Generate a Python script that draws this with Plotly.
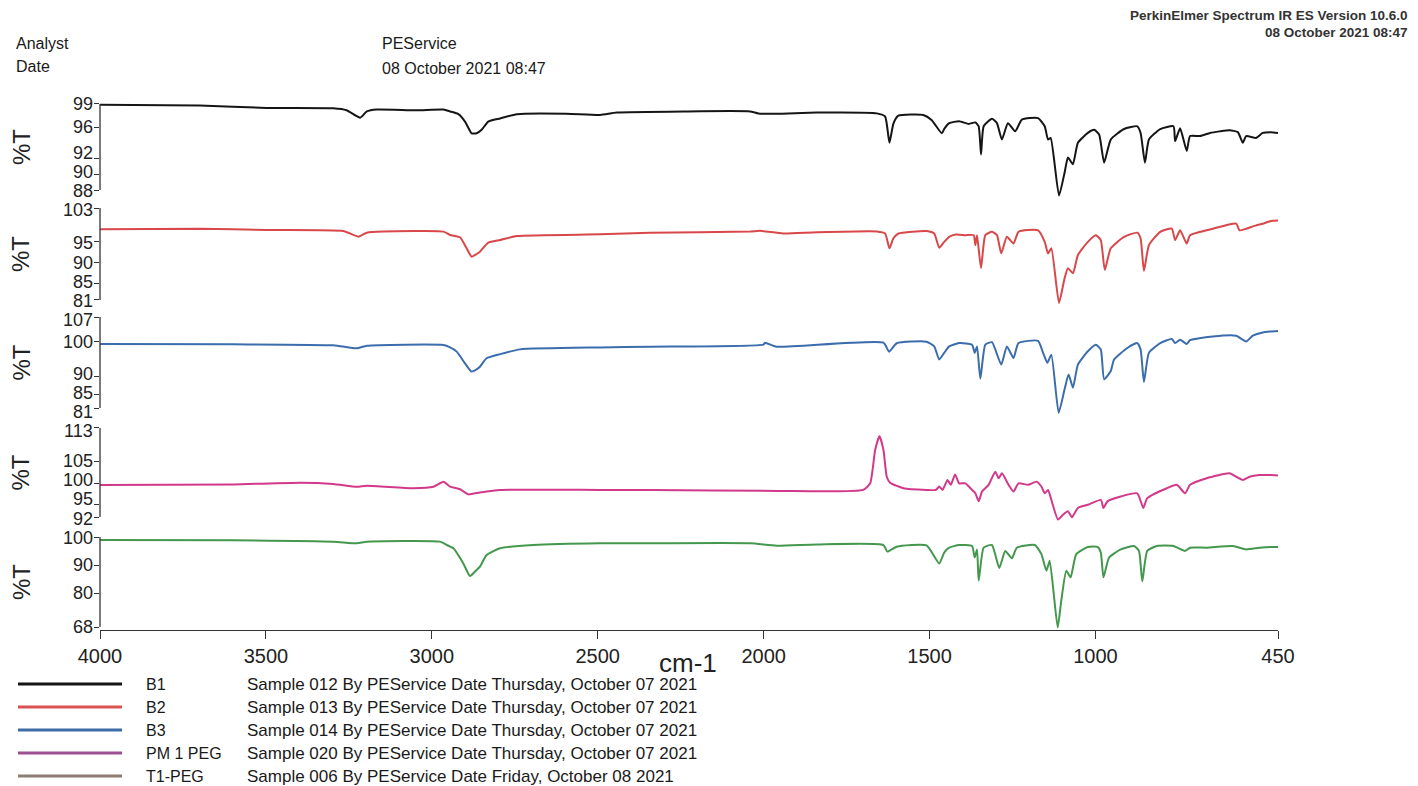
import plotly.graph_objects as go

# ---------------------------------------------------------------------------
# FT-IR spectra (wavenumber in cm-1, transmittance in %T)
# ---------------------------------------------------------------------------
b1_wn = [4000, 3700, 3498, 3297, 3257, 3216, 3196, 3166, 3046, 2965, 2945, 2920, 2900, 2880, 2865,
         2850, 2830, 2794, 2744, 2594, 2493, 2443, 2242, 2041, 2016, 1961, 1840, 1659, 1634, 1621,
         1609, 1594, 1519, 1494, 1463, 1456, 1441, 1411, 1382, 1362, 1352, 1345, 1337, 1312, 1297,
         1282, 1264, 1242, 1222, 1173, 1153, 1143, 1135, 1110, 1093, 1083, 1068, 1053, 1023, 1004,
         989, 974, 954, 914, 874, 864, 851, 839, 805, 765, 760, 745, 725, 715, 685,
         655, 626, 596, 571, 556, 546, 516, 496, 471, 450]
b1_t = [98.9, 98.8, 98.5, 98.45, 98.2, 97.25, 98.05, 98.3, 98.2, 98.3, 98.05, 97.7, 96.75, 95.25, 95.25,
        95.7, 96.75, 97.15, 97.7, 97.75, 97.6, 97.9, 98.05, 98.05, 97.8, 97.75, 97.9, 97.8, 97.4, 94.05,
        96.5, 97.5, 97.6, 96.95, 95.25, 95.8, 96.55, 96.8, 96.45, 96.65, 96.15, 92.55, 96.15, 97.1, 96.55,
        94.45, 96.55, 95.5, 97.0, 97.2, 96.15, 94.45, 94.65, 87.3, 90.25, 92.15, 91.3, 94.05, 95.3, 95.7,
        95.1, 91.5, 94.45, 95.8, 96.15, 95.3, 91.5, 94.45, 95.8, 96.15, 94.25, 95.9, 93.0, 94.9, 94.9,
        95.3, 95.5, 95.65, 95.4, 94.05, 94.9, 94.65, 95.3, 95.4, 95.3]

b2_wn = [4000, 3700, 3498, 3267, 3221, 3196, 3146, 2965, 2945, 2915, 2895, 2880, 2865, 2855, 2830,
         2794, 2744, 2493, 2342, 2041, 2011, 1941, 1840, 1659, 1634, 1621, 1609, 1594, 1509, 1486,
         1471, 1456, 1441, 1421, 1392, 1367, 1362, 1357, 1345, 1332, 1312, 1297, 1284, 1267, 1247,
         1232, 1173, 1153, 1143, 1133, 1110, 1093, 1083, 1068, 1053, 1023, 999, 984, 972, 954,
         914, 874, 864, 854, 839, 805, 770, 760, 745, 725, 715, 646, 576, 566, 546,
         516, 496, 471, 450]
b2_t = [97.9, 98.05, 97.75, 97.5, 96.15, 97.1, 97.35, 97.35, 96.55, 96.0, 93.35, 91.35, 92.0, 92.55, 94.7,
        95.35, 96.3, 96.7, 97.1, 97.35, 97.55, 96.9, 97.2, 97.4, 96.9, 93.35, 95.75, 96.9, 97.5, 96.9,
        93.5, 94.9, 96.1, 96.65, 96.5, 96.5, 94.1, 96.5, 88.6, 96.5, 97.3, 96.5, 92.15, 96.1, 94.5,
        97.3, 97.65, 94.9, 92.15, 93.35, 80.3, 86.25, 88.6, 87.4, 91.75, 94.9, 96.5, 95.3, 88.2, 93.35,
        96.1, 97.1, 95.7, 87.95, 94.1, 97.3, 98.05, 95.3, 97.65, 94.5, 96.5, 98.05, 99.25, 97.65, 98.05,
        98.85, 99.25, 99.9, 100.0]

b3_wn = [4000, 3598, 3297, 3226, 3196, 2965, 2945, 2925, 2900, 2880, 2865, 2855, 2835, 2794, 2734,
         2493, 2342, 2001, 1996, 1961, 1639, 1622, 1599, 1509, 1486, 1471, 1456, 1441, 1411, 1372,
         1364, 1357, 1347, 1332, 1312, 1284, 1267, 1247, 1232, 1173, 1158, 1145, 1133, 1111, 1093,
         1081, 1068, 1053, 1023, 999, 984, 974, 954, 944, 904, 874, 864, 854, 839, 805,
         770, 760, 745, 725, 715, 646, 576, 546, 526, 496, 471, 450]
b3_t = [99.3, 99.2, 98.9, 98.05, 98.8, 99.0, 98.3, 97.1, 93.75, 91.4, 92.05, 92.8, 95.2, 96.4, 97.75,
        98.3, 98.5, 99.1, 99.65, 98.5, 99.65, 97.1, 99.5, 99.95, 98.6, 94.85, 96.75, 98.6, 99.55, 99.1,
        96.75, 98.6, 89.4, 99.1, 99.8, 93.4, 98.6, 95.3, 99.55, 100.2, 96.75, 93.9, 96.25, 79.6, 86.4,
        90.6, 86.8, 93.4, 97.2, 99.1, 97.7, 89.2, 91.55, 94.85, 98.15, 99.55, 97.7, 88.45, 96.75, 99.55,
        100.7, 99.55, 100.5, 99.3, 100.4, 101.45, 101.65, 100.0, 101.65, 102.6, 102.85, 103.0]

pm1_wn = [4000, 3598, 3397, 3297, 3226, 3196, 3056, 2995, 2965, 2945, 2915, 2890, 2855, 2794, 2493,
          2342, 1961, 1700, 1679, 1664, 1651, 1639, 1629, 1619, 1579, 1509, 1481, 1471, 1461, 1446,
          1436, 1423, 1411, 1392, 1372, 1362, 1352, 1342, 1322, 1302, 1292, 1282, 1262, 1247, 1232,
          1203, 1178, 1163, 1153, 1143, 1133, 1113, 1098, 1083, 1071, 1053, 1023, 984, 976, 964,
          924, 874, 856, 844, 785, 755, 730, 715, 665, 596, 576, 556, 536, 506, 471, 450]
pm1_t = [99.55, 99.7, 100.1, 99.8, 99.15, 99.4, 98.8, 99.15, 100.35, 99.15, 98.55, 97.35, 97.8, 98.4, 98.4,
         98.4, 98.15, 98.4, 99.95, 107.8, 111.1, 107.8, 101.5, 100.1, 98.8, 98.4, 98.4, 99.2, 98.4, 100.75,
         99.6, 102.05, 99.95, 99.95, 98.4, 97.6, 95.7, 98.0, 99.6, 102.7, 101.15, 102.3, 99.6, 98.0, 99.95,
         99.6, 100.35, 99.2, 97.6, 98.4, 96.05, 91.4, 92.55, 93.35, 91.95, 94.15, 94.9, 96.05, 94.15, 95.7,
         96.85, 97.6, 94.15, 96.45, 98.8, 99.6, 97.6, 99.6, 101.15, 102.3, 101.5, 100.75, 101.5, 101.9, 101.9,
         101.8]

t1_wn = [4000, 3598, 3297, 3226, 3196, 2975, 2955, 2935, 2905, 2885, 2870, 2855, 2835, 2794, 2694,
         2493, 2342, 2041, 1961, 1840, 1639, 1627, 1599, 1509, 1471, 1456, 1441, 1411, 1372, 1364,
         1357, 1352, 1337, 1312, 1290, 1272, 1252, 1237, 1183, 1163, 1148, 1138, 1114, 1103, 1088,
         1075, 1058, 1023, 994, 984, 976, 959, 924, 884, 869, 859, 844, 815, 765, 730,
         715, 665, 586, 546, 506, 471, 450]
t1_t = [98.9, 98.85, 98.35, 97.75, 98.35, 98.35, 97.15, 96.0, 90.6, 86.1, 87.7, 89.45, 93.6, 96.0, 97.15,
        97.75, 97.75, 97.75, 96.9, 97.35, 97.15, 94.8, 96.55, 97.0, 90.6, 94.45, 96.2, 97.15, 96.8, 92.7,
        95.6, 84.5, 96.2, 97.15, 88.95, 95.05, 92.45, 96.2, 97.15, 93.9, 88.0, 91.55, 67.8, 77.45, 88.0,
        85.65, 93.9, 96.45, 96.45, 94.5, 85.65, 92.7, 95.6, 96.8, 95.05, 84.25, 95.05, 96.8, 96.8, 95.05,
        96.2, 96.2, 96.8, 95.6, 96.2, 96.45, 96.4]

sample_names = ["B1", "B2", "B3", "PM 1 PEG", "T1-PEG"]
sample_desc = [
    "Sample 012 By PEService Date Thursday, October 07 2021",
    "Sample 013 By PEService Date Thursday, October 07 2021",
    "Sample 014 By PEService Date Thursday, October 07 2021",
    "Sample 020 By PEService Date Thursday, October 07 2021",
    "Sample 006 By PEService Date Friday, October 08 2021",
]
y_tickvals = [
    [88, 90, 92, 96, 99],
    [81, 85, 90, 95, 103],
    [81, 85, 90, 100, 107],
    [92, 95, 100, 105, 113],
    [68, 80, 90, 100],
]
# small vertical nudges (px, positive = up) so crowded tick labels stay apart
y_label_nudge = [
    [-1, 2, 6, 0, 0],
    [-1, 1, -1, -2, -2],
    [-4, 1, 3, 0, -3],
    [-2, 5, 3, 1, -3],
    [0, 0, 0, -1],
]
x_tickvals = [4000, 3500, 3000, 2500, 2000, 1500, 1000, 450]

spectra = [(b1_wn, b1_t), (b2_wn, b2_t), (b3_wn, b3_t), (pm1_wn, pm1_t), (t1_wn, t1_t)]
for wn, t in spectra:
    assert len(wn) == len(t)

# ---------------------------------------------------------------------------
# Styling / page geometry (pixels on a 1418 x 786 page)
# ---------------------------------------------------------------------------
W, H = 1418, 786
FONT = "Liberation Sans, Arial, sans-serif"
TXT = "#222222"
line_colors = ["#151515", "#d8474a", "#3b6dad", "#d2398a", "#44984e"]
legend_colors = ["#151515", "#d8524f", "#3c6ba6", "#9e4e92", "#8c7c72"]

X_LEFT, X_RIGHT = 100, 1278
# (reference value, pixel row of that value, pixels per %T unit, axis range)
panel_geom = [
    (99, 104, 7.82, [86.8, 99.6]),
    (103, 208, 4.18, [79.2, 103.6]),
    (107, 317, 3.5, [78.8, 107.6]),
    (113, 428, 4.24, [90.6, 113.6]),
    (100, 537, 2.8125, [67.0, 100.6]),
]

fig = go.Figure()
layout = dict(
    width=W, height=H,
    margin=dict(l=0, r=0, t=0, b=0, pad=0, autoexpand=False),
    paper_bgcolor="white", plot_bgcolor="white",
    showlegend=False,
    font=dict(family=FONT, color=TXT),
)
shapes = []
annotations = []

n = len(spectra)
for i, ((wn, t), (v0, p0, k, rng)) in enumerate(zip(spectra, panel_geom)):
    sfx = "" if i == 0 else str(i + 1)
    top_px = p0 - (rng[1] - v0) * k
    bot_px = p0 + (v0 - rng[0]) * k
    dom = [1 - bot_px / H, 1 - top_px / H]

    fig.add_trace(go.Scatter(
        x=wn, y=t, mode="lines", name=sample_names[i],
        line=dict(color=line_colors[i], width=2, shape="spline", smoothing=0.5),
        xaxis="x" + sfx, yaxis="y" + sfx,
    ))

    bottom = i == n - 1
    layout["xaxis" + sfx] = dict(
        domain=[X_LEFT / W, X_RIGHT / W], range=[4000, 450],
        anchor="y" + sfx, visible=bottom, automargin=False,
        showgrid=False, zeroline=False,
        showline=bottom, linecolor="#333333", linewidth=1.3,
        ticks="outside", ticklen=8, tickwidth=1.2, tickcolor="#333333",
        tickvals=x_tickvals, ticktext=[str(v) for v in x_tickvals],
        tickfont=dict(family=FONT, size=20, color=TXT),
    )
    tv = y_tickvals[i]
    layout["yaxis" + sfx] = dict(
        domain=dom, range=rng, anchor="x" + sfx, automargin=False,
        showgrid=False, zeroline=False, showline=False,
        ticks="outside", ticklen=5, tickwidth=1.2, tickcolor="#333333",
        tickvals=tv, showticklabels=False,
    )
    # tick labels, nudged apart where they crowd
    for v, dy in zip(tv, y_label_nudge[i]):
        annotations.append(dict(text=str(v), xref="paper", yref="y" + sfx,
                                x=(X_LEFT - 6) / W, y=v, yshift=dy, showarrow=False,
                                xanchor="right", yanchor="middle", borderpad=0,
                                font=dict(family=FONT, size=18, color=TXT)))
    # axis spine spanning the labelled range only
    shapes.append(dict(type="line", xref="paper", yref="y" + sfx,
                       x0=X_LEFT / W, x1=X_LEFT / W, y0=min(tv), y1=max(tv),
                       line=dict(color="#333333", width=1.3)))
    # %T title
    mid = 0.5 * (min(tv) + max(tv))
    annotations.append(dict(text="%T", xref="paper", yref="y" + sfx, x=21 / W, y=mid,
                            showarrow=False, textangle=-90, xanchor="center", yanchor="middle",
                            font=dict(family=FONT, size=24, color=TXT)))

# x-axis title
annotations.append(dict(text="cm-1", xref="paper", yref="paper", x=688 / W, y=1 - 663 / H,
                        showarrow=False, xanchor="center", yanchor="middle",
                        font=dict(family=FONT, size=26, color=TXT)))

# header block
header = [
    ("Analyst", 14, 44),
    ("Date", 14, 66),
    ("PEService", 380, 44),
    ("08 October 2021 08:47", 380, 68),
]
for txt, xp, yp in header:
    annotations.append(dict(text=txt, xref="paper", yref="paper", x=xp / W, y=1 - yp / H,
                            showarrow=False, xanchor="left", yanchor="middle",
                            font=dict(family=FONT, size=16, color="#1a1a1a")))
for txt, yp in [("PerkinElmer Spectrum IR ES Version 10.6.0", 16), ("08 October 2021 08:47", 32)]:
    annotations.append(dict(text="<b>" + txt + "</b>", xref="paper", yref="paper",
                            x=1410 / W, y=1 - yp / H, showarrow=False,
                            xanchor="right", yanchor="middle",
                            font=dict(family=FONT, size=13.5, color="#333333")))

# sample key below the axis
key_rows = [684, 707, 730, 753, 776]
for name, desc, col, yp in zip(sample_names, sample_desc, legend_colors, key_rows):
    shapes.append(dict(type="line", xref="paper", yref="paper",
                       x0=18 / W, x1=122 / W, y0=1 - yp / H, y1=1 - yp / H,
                       line=dict(color=col, width=3)))
    annotations.append(dict(text=name, xref="paper", yref="paper", x=144 / W, y=1 - yp / H,
                            showarrow=False, xanchor="left", yanchor="middle",
                            font=dict(family=FONT, size=16, color="#1a1a1a")))
    annotations.append(dict(text=desc, xref="paper", yref="paper", x=245 / W, y=1 - yp / H,
                            showarrow=False, xanchor="left", yanchor="middle",
                            font=dict(family=FONT, size=17, color="#1a1a1a")))

layout["shapes"] = shapes
layout["annotations"] = annotations
fig.update_layout(**layout)

fig.write_html("out.html")
